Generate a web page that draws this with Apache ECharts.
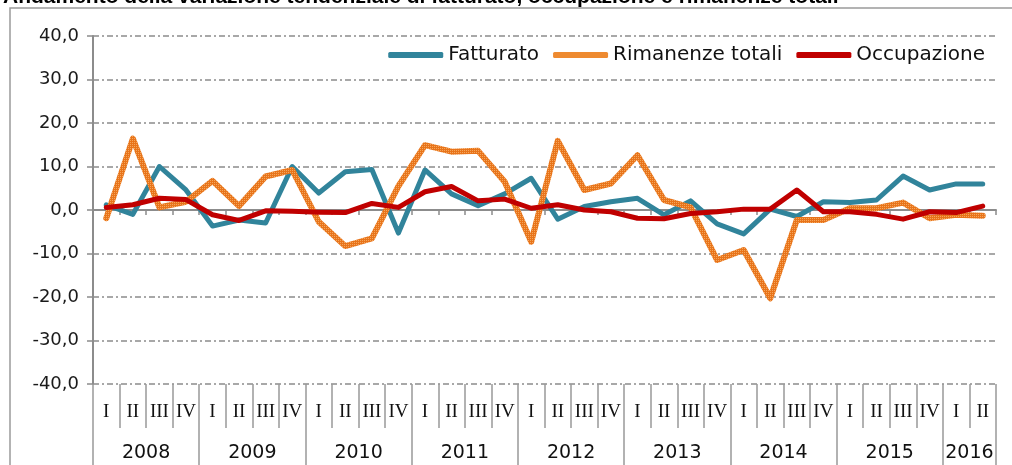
<!DOCTYPE html>
<html>
<head>
<meta charset="utf-8">
<script src="https://cdn.jsdelivr.net/npm/echarts@6/dist/echarts.min.js"></script>
<style>
  html, body { margin: 0; padding: 0; background: #fff; }
  #chart { width: 1012px; height: 465px; }
</style>
</head>
<body>
<div id="chart"></div>
<script>
// quarters 2008 I .. 2016 II
var years = ['2008', '2009', '2010', '2011', '2012', '2013', '2014', '2015', '2016'];
var quarterNames = ['I', 'II', 'III', 'IV'];
var quarters = [];
for (var y = 0; y < years.length; y++) {
    var nq = (years[y] === '2016') ? 2 : 4;
    for (var q = 0; q < nq; q++) quarters.push(quarterNames[q]);
}

var fatturato = [1.2, -1.0, 10.0, 4.6, -3.7, -2.3, -3.0, 10.0, 3.9, 8.8, 9.3, -5.3,
    9.2, 3.7, 1.0, 3.7, 7.3, -2.1, 0.8, 1.9, 2.7, -1.1, 2.1, -3.2,
    -5.5, 0.2, -1.5, 1.9, 1.7, 2.3, 7.8, 4.6, 6.0, 6.0];
var rimanenze = [-1.9, 16.4, 0.6, 1.9, 6.7, 0.9, 7.7, 9.2, -2.7, -8.3, -6.5, 5.5,
    14.9, 13.4, 13.6, 6.5, -7.3, 15.9, 4.6, 6.1, 12.6, 2.3, 0.6, -11.5,
    -9.2, -20.3, -2.3, -2.3, 0.4, 0.4, 1.7, -1.9, -1.1, -1.3];
var occupazione = [0.6, 1.2, 2.7, 2.4, -1.1, -2.4, -0.2, -0.3, -0.5, -0.6, 1.5, 0.6,
    4.2, 5.4, 2.1, 2.5, 0.4, 1.2, 0.0, -0.4, -1.9, -2.0, -0.8, -0.4,
    0.2, 0.2, 4.6, -0.4, -0.4, -1.0, -2.1, -0.4, -0.6, 0.9];

// positions of year separators and year label centres (in quarter units)
var yearTicks = [0, 4, 8, 12, 16, 20, 24, 28, 32, 34];
var yearCenters = [2, 6, 10, 14, 18, 22, 26, 30, 33];

// speckled orange texture for the "Rimanenze" line
var pat = document.createElement('canvas');
pat.width = pat.height = 4;
var pctx = pat.getContext('2d');
pctx.fillStyle = '#E8741A';
pctx.fillRect(0, 0, 4, 4);
pctx.fillStyle = '#F5A65C';
pctx.fillRect(0, 0, 1, 1);
pctx.fillRect(2, 2, 1, 1);
pctx.fillRect(2, 0, 1, 1);
pctx.fillRect(0, 2, 1, 1);

var gridGray = '#8c8c8c';

var myChart = echarts.init(document.getElementById('chart'));
myChart.setOption({
    animation: false,
    backgroundColor: '#fff',
    graphic: [
        {
            type: 'rect',
            shape: {x: 10, y: 8, width: 1020, height: 480},
            style: {fill: 'none', stroke: '#9a9a9a', lineWidth: 1.5},
            silent: true
        },
        {
            type: 'text',
            left: 3,
            top: -13,
            style: {
                text: 'Andamento della variazione tendenziale di fatturato, occupazione e rimanenze totali',
                font: 'bold 21px "Liberation Sans", Arial, sans-serif',
                fill: '#000'
            }
        }
    ],
    grid: {left: 93, right: 16, top: 36, bottom: 81},
    legend: {
        right: 22,
        top: 40,
        itemWidth: 55,
        itemHeight: 6,
        itemGap: 14,
        icon: 'roundRect',
        textStyle: {fontFamily: 'DejaVu Sans', fontSize: 20, color: '#111'},
        data: [
            {name: 'Fatturato', itemStyle: {color: '#31849B', borderWidth: 0}},
            {name: 'Rimanenze totali', itemStyle: {color: '#EE8A30', borderWidth: 0}},
            {name: 'Occupazione', itemStyle: {color: '#C00000', borderWidth: 0}}
        ]
    },
    xAxis: [
        {
            // axis line crossing at zero
            type: 'category',
            data: quarters,
            position: 'bottom',
            axisLine: {onZero: true, lineStyle: {color: gridGray, width: 2}},
            axisTick: {show: true, length: 5, interval: 0, lineStyle: {color: gridGray, width: 1.5}},
            axisLabel: {show: false},
            splitLine: {show: false}
        },
        {
            // quarter labels at the bottom
            type: 'category',
            data: quarters,
            position: 'bottom',
            axisLine: {show: false, onZero: false},
            axisTick: {show: true, length: 44, interval: 0, lineStyle: {color: '#999', width: 1.5}},
            axisLabel: {
                interval: 0,
                margin: 19,
                fontFamily: 'Liberation Serif',
                fontSize: 19,
                color: '#111'
            },
            splitLine: {show: false}
        },
        {
            // year labels
            type: 'value',
            min: 0,
            max: 34,
            position: 'bottom',
            axisLine: {show: false, onZero: false},
            axisTick: {show: true, length: 90, customValues: yearTicks, lineStyle: {color: '#999', width: 1.5}},
            axisLabel: {
                customValues: yearCenters,
                margin: 60,
                fontFamily: 'DejaVu Sans',
                fontSize: 19,
                color: '#111',
                formatter: function (v) {
                    var i = yearCenters.indexOf(v);
                    return i >= 0 ? years[i] : '';
                }
            },
            splitLine: {show: false}
        }
    ],
    yAxis: {
        type: 'value',
        min: -40,
        max: 40,
        interval: 10,
        axisLine: {show: true, lineStyle: {color: gridGray, width: 2}},
        axisTick: {show: true, length: 6, lineStyle: {color: gridGray, width: 1.5}},
        axisLabel: {
            margin: 14,
            fontFamily: 'DejaVu Sans',
            fontSize: 18,
            color: '#1a1a1a',
            formatter: function (v) {
                return v.toFixed(1).replace('.', ',');
            }
        },
        splitLine: {
            show: true,
            lineStyle: {color: gridGray, width: 1.5, type: [6, 3, 2, 3]}
        }
    },
    series: [
        {
            name: 'Fatturato',
            type: 'line',
            xAxisIndex: 0,
            data: fatturato,
            showSymbol: false,
            color: '#31849B',
            lineStyle: {width: 5, color: '#31849B', join: 'round', cap: 'round'},
            z: 2
        },
        {
            name: 'Rimanenze totali',
            type: 'line',
            xAxisIndex: 0,
            data: rimanenze,
            showSymbol: false,
            color: '#EE8A30',
            lineStyle: {width: 6, color: {image: pat, repeat: 'repeat'}, join: 'round', cap: 'round'},
            z: 3
        },
        {
            name: 'Occupazione',
            type: 'line',
            xAxisIndex: 0,
            data: occupazione,
            showSymbol: false,
            color: '#C00000',
            lineStyle: {width: 5, color: '#C00000', join: 'round', cap: 'round'},
            z: 4
        }
    ]
});
</script>
</body>
</html>
